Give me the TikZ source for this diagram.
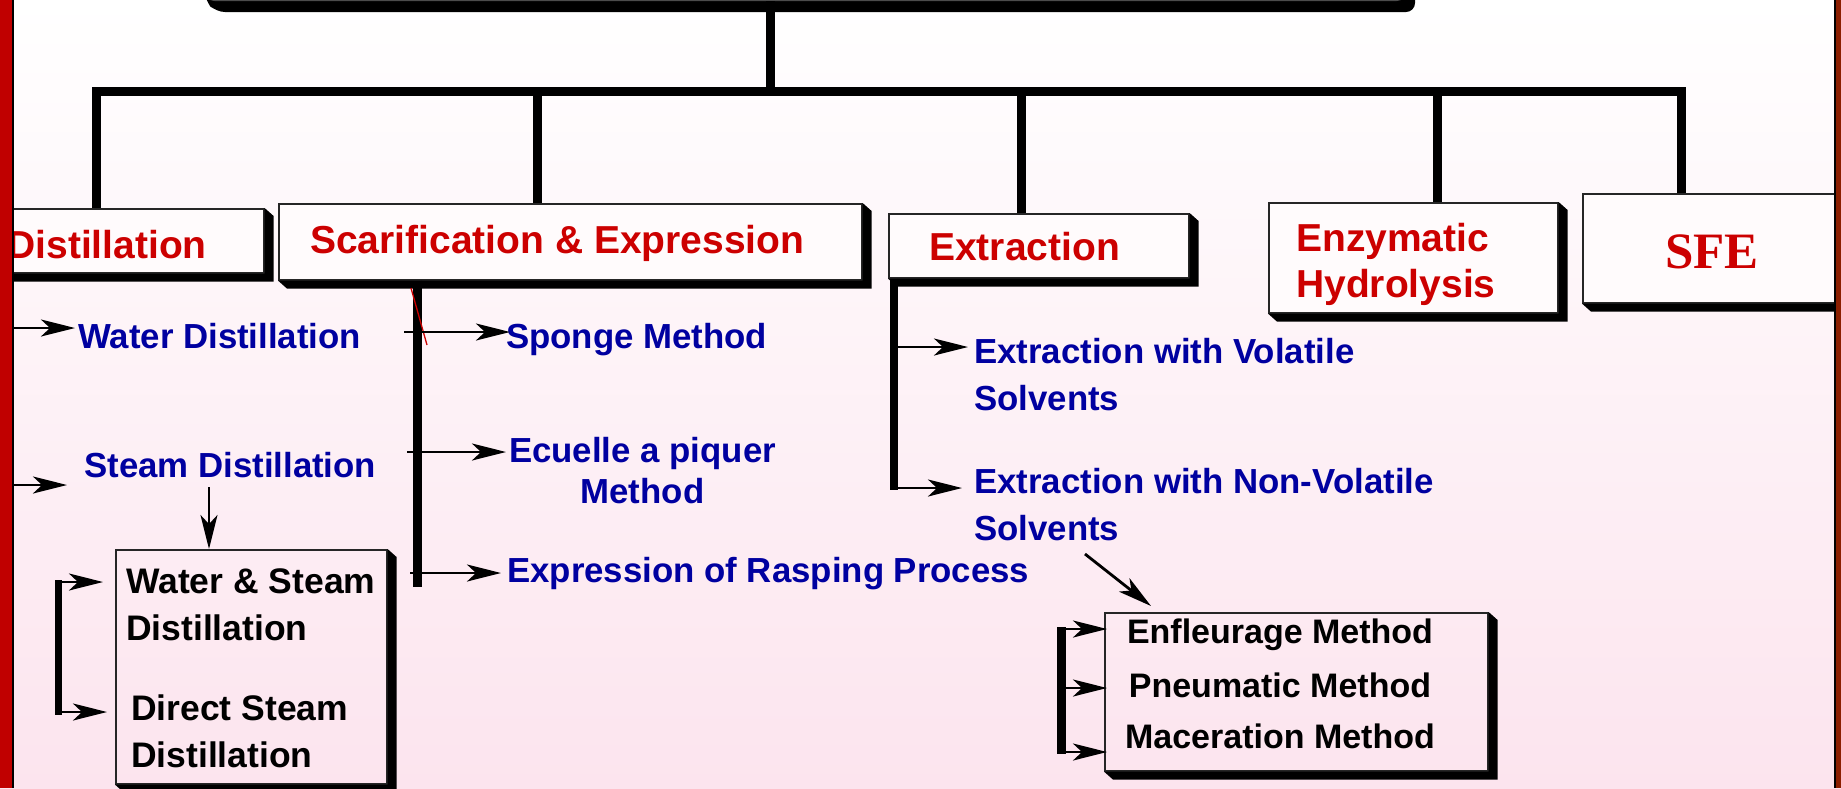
\documentclass[tikz,border=0pt]{standalone}
\usepackage{fontspec}
\setmainfont{Liberation Sans}
\newfontfamily\serifbold{Liberation Serif}
\usetikzlibrary{arrows.meta}
\definecolor{bgpink}{RGB}{252,228,238}
\definecolor{hred}{RGB}{204,0,0}
\definecolor{mblue}{RGB}{0,0,160}
\definecolor{barred}{RGB}{192,0,0}
\definecolor{barbrown}{RGB}{139,30,0}
\definecolor{boxfill}{RGB}{255,251,252}
\newcommand\myshadow[1]{\fill[black] (#1.north east) -- ([shift={(9,8)}]#1.north east) -- ([shift={(9,8)}]#1.south east) -- ([shift={(9,8)}]#1.south west) -- (#1.south west) -- (#1.south east) -- cycle;}
\tikzset{
  box/.style={draw=black!85, line width=1.6pt, inner sep=0pt, anchor=north west},
  hbox/.style={box, fill=boxfill},
  head/.style={text=hred, font=\fontsize{39}{46}\selectfont\bfseries, inner sep=0pt},
  sub/.style={text=mblue, font=\fontsize{34.8}{47}\selectfont\bfseries, inner sep=0pt},
  blk/.style={text=black, font=\fontsize{34}{47}\selectfont\bfseries, inner sep=0pt},
  blkw/.style={text=black, font=\fontsize{35.5}{47}\selectfont\bfseries, inner sep=0pt},
  thickline/.style={line width=9pt, line join=miter},
  arr/.style={line width=2.8pt, -{Stealth[length=34pt,width=17pt,inset=9pt]}},
}
\begin{document}
\begin{tikzpicture}[x=1pt,y=-1pt]
\useasboundingbox (0,0) rectangle (1841,788);
\clip (0,0) rectangle (1841,788);
\shade[top color=white, bottom color=bgpink] (0,0) rectangle (1841,788);

% top box (cut off at the top)
\fill[black, rounded corners=9pt] (205,-40) -- (205,1) -- (216,12) -- (1415,12) -- (1415,-40) -- cycle;
\node[draw=black!70, line width=1.2pt, fill=white, rounded corners=9pt, minimum width=1200pt, minimum height=80pt, anchor=south west, inner sep=0pt] (top) at (205,1) {};

% heading boxes
\node[hbox, minimum width=293pt, minimum height=64pt] (dist) at (-30,208) {};
\node[hbox, minimum width=583pt, minimum height=76pt] (scar) at (278,203) {};
\node[hbox, minimum width=300pt, minimum height=64pt] (extr) at (888,213) {};
\node[hbox, minimum width=289pt, minimum height=110pt] (enzy) at (1268,202) {};
\node[hbox, minimum width=300pt, minimum height=109pt] (sfe) at (1582,193) {};
\node[box, minimum width=271pt, minimum height=234pt] (wsb) at (115,549) {};
\node[box, minimum width=383pt, minimum height=158pt] (enfb) at (1104,612) {};
\myshadow{dist}\myshadow{scar}\myshadow{extr}\myshadow{enzy}\myshadow{sfe}\myshadow{wsb}\myshadow{enfb}

% bus lines
\coordinate (xD) at (96.5,91.5);
\coordinate (xSc) at (537.5,91.5);
\coordinate (xC) at (770.5,91.5);
\coordinate (xEx) at (1021.5,91.5);
\coordinate (xEn) at (1437,91.5);
\coordinate (xSF) at (1681.5,91.5);
\draw[thickline] (dist.north -| xD) -- (xD) -- (xSF) -- (sfe.north -| xSF);
\draw[thickline] (top.south -| xC) -- (xC);
\draw[thickline] (xSc) -- (scar.north -| xSc);
\draw[thickline] (xEx) -- (extr.north -| xEx);
\draw[thickline] (xEn) -- (enzy.north -| xEn);

% heading texts
\node[head, anchor=base east] (distT) at (207,258) {Distillation};
\node[head, anchor=base west] (scarT) at (310,253) {Scarification \& Expression};
\node[head, anchor=base west] (extrT) at (929,260) {Extraction};
\node[head, anchor=base west, align=left] (enzyT) at (1296,297) {Enzymatic\\Hydrolysis};
\node[text=hred, font=\fontsize{51}{51}\selectfont\serifbold\bfseries, inner sep=0pt, anchor=base] (sfeT) at (1712,268) {SFE};

% blue texts
\node[sub, anchor=base west] (wd) at (78,348) {Water Distillation};
\node[sub, anchor=base west] (sd) at (84,477) {Steam Distillation};
\node[sub, anchor=base west] (sp) at (506,348) {Sponge Method};
\node[sub, anchor=base, align=center, font=\fontsize{34.8}{41}\selectfont\bfseries] (ec) at (642.5,503) {Ecuelle a piquer\\Method};
\node[sub, anchor=base west] (rp) at (507,582) {Expression of Rasping Process};
\node[sub, anchor=base west, align=left] (ev) at (974,410) {Extraction with Volatile\\Solvents};
\node[sub, anchor=base west, align=left] (en) at (974,540) {Extraction with Non-Volatile\\Solvents};

% black texts
\node[blkw, anchor=base west, align=left] (ws) at (126,640) {Water \& Steam\\Distillation};
\node[blkw, anchor=base west, align=left] (ds) at (131,767) {Direct Steam\\Distillation};
\node[blk, anchor=base] (m1) at (1280,643) {Enfleurage Method};
\node[blk, anchor=base] (m2) at (1280,697) {Pneumatic Method};
\node[blk, anchor=base] (m3) at (1280,748) {Maceration Method};

% distillation arrows
\coordinate (lb) at (14,0);
\coordinate (wdA) at (75,328);
\coordinate (sdA) at (67,485);
\draw[arr] (lb |- wdA) -- (wdA);
\draw[arr] (lb |- sdA) -- (sdA);
\coordinate (sdB) at (209,487);
\draw[arr] (sdB) -- (sdB |- wsb.north);
\coordinate (b1) at (58.5,580);
\coordinate (b2) at (58.5,715);
\draw[line width=7pt] (b1) -- (b2);
\coordinate (wsA) at (103,582);
\coordinate (dsA) at (107,712);
\draw[arr] (55,582) -- (wsA);
\draw[arr] (55,712) -- (dsA);

% scarification branch
\coordinate (vS) at (417.5,587);
\draw[thickline] (scar.south -| vS) -- (vS);
\draw[hred, line width=1.3pt] (411,288) -- (427,345);
\coordinate (spA) at (510,332);
\coordinate (ecA) at (506,452);
\coordinate (rpA) at (501,573);
\draw[arr] (404,332) -- (spA);
\draw[arr] (407,452) -- (ecA);
\draw[arr] (410,573) -- (rpA);

% extraction branch
\coordinate (vE) at (894,490);
\draw[line width=8pt] (extr.south -| vE) -- (vE);
\coordinate (evA) at (968,347);
\coordinate (enA) at (962,488);
\draw[arr] (894,347) -- (evA);
\draw[arr] (894,488) -- (enA);
\coordinate (dgS) at (1085,554);
\coordinate (dgE) at (1151,606);
\draw[arr] (dgS) -- (dgE);
\coordinate (c1) at (1061.5,627);
\coordinate (c2) at (1061.5,754);
\draw[line width=9pt] (c1) -- (c2);
\coordinate (m1A) at (1107,629);
\coordinate (m2A) at (1107,688);
\coordinate (m3A) at (1107,752);
\draw[arr] (1058,629) -- (m1A);
\draw[arr] (1066,688) -- (m2A);
\draw[arr] (1058,752) -- (m3A);

% side bars
\fill[barred] (0,0) rectangle (12,788);
\fill[black] (12,0) rectangle (14,788);
\fill[black] (1834,0) rectangle (1836,788);
\fill[barbrown] (1836,0) rectangle (1841,788);
\end{tikzpicture}
\end{document}
